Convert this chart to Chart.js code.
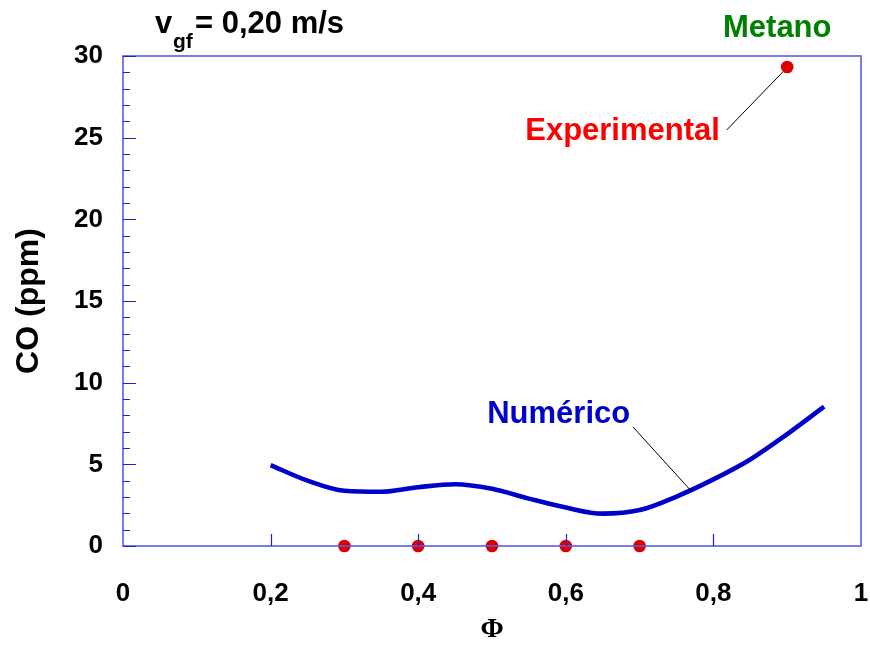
<!DOCTYPE html>
<html>
<head>
<meta charset="utf-8">
<script src="https://cdn.jsdelivr.net/npm/chart.js@4/dist/chart.umd.min.js"></script>
<style>
  html, body { margin: 0; padding: 0; background: #ffffff; }
  #wrap { width: 870px; height: 652px; }
</style>
</head>
<body>
<div id="wrap"><canvas id="c" width="870" height="652"></canvas></div>
<script>
// Equivalence ratio (Φ) and CO concentration (ppm) at v_gf = 0,20 m/s
const phiNumeric = [0.20, 0.25, 0.30, 0.35, 0.40, 0.45, 0.50, 0.55, 0.60, 0.65, 0.70, 0.75, 0.80, 0.85, 0.90, 0.95];
const coNumeric  = [4.95, 4.0, 3.38, 3.32, 3.6, 3.78, 3.5, 2.9, 2.35, 1.98, 2.2, 3.03, 4.08, 5.3, 6.85, 8.53];

const phiExperimental = [0.3, 0.4, 0.5, 0.6, 0.7, 0.9];
const coExperimental  = [0, 0, 0, 0, 0, 29.33];

const xTickLabels = ['0', '0,2', '0,4', '0,6', '0,8', '1'];
const yTickLabels = ['0', '5', '10', '15', '20', '25', '30'];

const FONT = '"Liberation Sans", Arial, Helvetica, sans-serif';
const AXIS_BLUE = '#5a5aea';

// Frame around the plot area plus inward tick marks
const framePlugin = {
  id: 'frame',
  afterDatasetsDraw(chart) {
    const { ctx, chartArea: a, scales: { x, y } } = chart;
    ctx.save();
    ctx.strokeStyle = AXIS_BLUE;
    ctx.lineWidth = 1.6;
    ctx.strokeRect(a.left, a.top, a.right - a.left, a.bottom - a.top);
    ctx.strokeStyle = '#2020d8';
    ctx.lineWidth = 1.2;
    ctx.beginPath();
    for (let v = 0; v <= 30; v++) {
      const py = Math.round(y.getPixelForValue(v)) + 0.5;
      const len = v % 5 === 0 ? 13 : 7;
      ctx.moveTo(a.left, py);
      ctx.lineTo(a.left + len, py);
    }
    for (let i = 1; i < xTickLabels.length - 1; i++) {
      const px = Math.round(x.getPixelForValue(i * 0.2)) + 0.5;
      ctx.moveTo(px, a.bottom);
      ctx.lineTo(px, a.bottom - 12);
    }
    ctx.stroke();
    ctx.restore();
  }
};

// Heading, series labels and leader lines
const notesPlugin = {
  id: 'notes',
  afterDraw(chart) {
    const { ctx, scales: { x, y } } = chart;
    ctx.save();
    ctx.textBaseline = 'alphabetic';
    ctx.textAlign = 'left';
    ctx.fillStyle = '#000000';
    ctx.font = 'bold 31px ' + FONT;
    ctx.fillText('v', 155, 33);
    ctx.font = 'bold 21px ' + FONT;
    ctx.fillText('gf', 173, 48);
    ctx.font = 'bold 31px ' + FONT;
    ctx.fillText('= 0,20 m/s', 195, 33);

    ctx.font = 'bold 31px ' + FONT;
    ctx.fillStyle = '#008000';
    ctx.fillText('Metano', x.getPixelForValue(0.813), y.getPixelForValue(31.16));
    ctx.fillStyle = '#ff0000';
    ctx.fillText('Experimental', x.getPixelForValue(0.545), y.getPixelForValue(24.86));
    ctx.fillStyle = '#0000cc';
    ctx.fillText('Numérico', x.getPixelForValue(0.4935), y.getPixelForValue(7.53));

    ctx.strokeStyle = '#000000';
    ctx.lineWidth = 1;
    ctx.beginPath();
    ctx.moveTo(x.getPixelForValue(0.818), y.getPixelForValue(25.47));
    ctx.lineTo(x.getPixelForValue(0.894), y.getPixelForValue(29.02));
    ctx.moveTo(x.getPixelForValue(0.691), y.getPixelForValue(7.29));
    ctx.lineTo(x.getPixelForValue(0.771), y.getPixelForValue(3.31));
    ctx.stroke();
    ctx.restore();
  }
};

new Chart(document.getElementById('c'), {
  type: 'scatter',
  data: {
    datasets: [
      {
        label: 'Experimental',
        data: phiExperimental.map((p, i) => ({ x: p, y: coExperimental[i] })),
        showLine: false,
        pointRadius: 6.3,
        pointBackgroundColor: '#dd0000',
        pointBorderColor: '#dd0000',
        pointBorderWidth: 0,
        clip: false
      },
      {
        label: 'Numérico',
        data: phiNumeric.map((p, i) => ({ x: p, y: coNumeric[i] })),
        showLine: true,
        borderColor: '#0000cc',
        borderWidth: 4.6,
        pointRadius: 0,
        cubicInterpolationMode: 'monotone',
        borderCapStyle: 'butt',
        clip: false
      }
    ]
  },
  options: {
    responsive: false,
    animation: false,
    devicePixelRatio: 1,
    layout: { padding: { left: 0, right: 9, top: 56, bottom: 0 } },
    plugins: { legend: { display: false }, tooltip: { enabled: false } },
    scales: {
      x: {
        type: 'linear',
        min: 0, max: 1,
        afterFit(scale) {
          scale.height = 106;
          scale.paddingLeft = 0;
          scale.paddingRight = 0;
        },
        grid: { display: false, drawTicks: false },
        border: { display: false },
        ticks: {
          stepSize: 0.2,
          padding: 32,
          color: '#000000',
          font: { family: FONT, size: 26, weight: 'bold' },
          callback: (v, i) => xTickLabels[i]
        },
        title: {
          display: true,
          text: 'Φ',
          color: '#000000',
          font: { family: '"Liberation Serif", "Times New Roman", serif', size: 28, weight: 'bold' },
          padding: { top: 0, bottom: 5 }
        }
      },
      y: {
        type: 'linear',
        min: 0, max: 30,
        afterFit(scale) {
          scale.width = 123;
          scale.paddingTop = 0;
          scale.paddingBottom = 0;
        },
        grid: { display: false, drawTicks: false },
        border: { display: false },
        ticks: {
          stepSize: 5,
          padding: 20,
          color: '#000000',
          font: { family: FONT, size: 26, weight: 'bold' },
          callback: (v, i) => yTickLabels[i]
        },
        title: {
          display: true,
          text: 'CO (ppm)',
          color: '#000000',
          font: { family: FONT, size: 32, weight: 'bold' },
          padding: { top: 10, bottom: 0 }
        }
      }
    }
  },
  plugins: [framePlugin, notesPlugin]
});
</script>
</body>
</html>
